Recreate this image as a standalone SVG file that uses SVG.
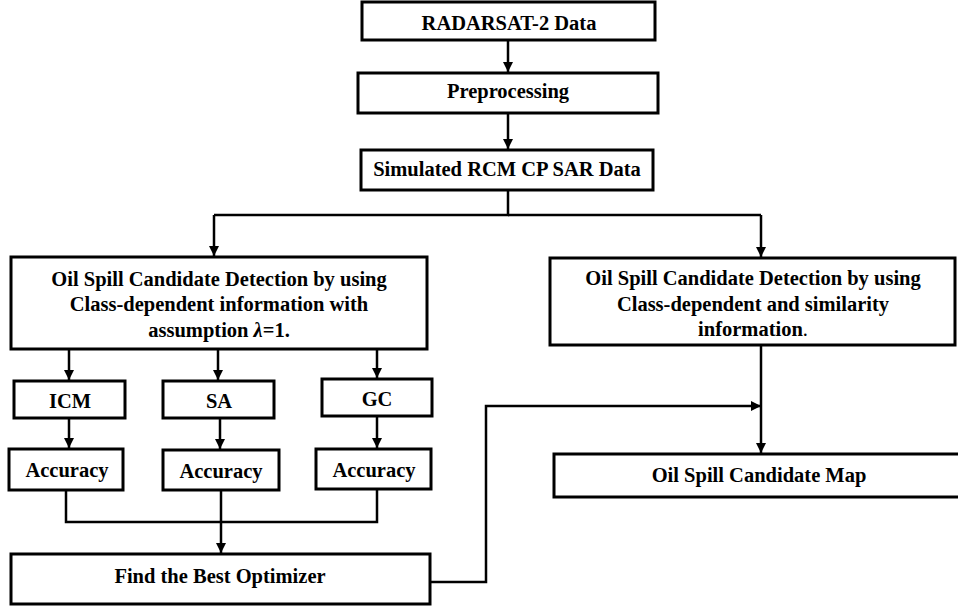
<svg xmlns="http://www.w3.org/2000/svg" width="958" height="607" viewBox="0 0 958 607">
<defs>
<marker id="ah" viewBox="0 0 10 10" refX="10" refY="5" markerWidth="4" markerHeight="4" orient="auto" markerUnits="strokeWidth">
<path d="M0,0 L10,5 L0,10 z" fill="#000"/>
</marker>
<style>
.box{fill:#fff;stroke:#000;stroke-width:3}
.t{font-family:'Liberation Serif','Times New Roman',serif;font-weight:bold;font-size:20.5px;text-anchor:middle;fill:#000}
.c{fill:none;stroke:#000;stroke-width:2.5}
.a{marker-end:url(#ah)}
</style>
</defs>
<rect width="958" height="607" fill="#fff"/>
<g id="connectors">
<path class="c a" d="M508,40 V72"/>
<path class="c a" d="M508,113 V149"/>
<path class="c" d="M508,190 V215 H214"/>
<path class="c" d="M508,215 H761"/>
<path class="c a" d="M214,215 V256"/>
<path class="c a" d="M761,215 V257"/>
<path class="c a" d="M69,349 V380"/>
<path class="c a" d="M218,349 V380"/>
<path class="c a" d="M377,349 V378"/>
<path class="c a" d="M69,418 V448"/>
<path class="c a" d="M220,418 V449"/>
<path class="c a" d="M377,416 V448"/>
<path class="c" d="M66,490 V522 H377 V489"/>
<path class="c a" d="M221,490 V553"/>
<path class="c a" d="M430,582 H486 V406 H761"/>
<path class="c a" d="M761,345 V453"/>
</g>
<g id="n-radarsat"><rect class="box" x="362" y="2" width="293" height="38"/><text class="t" x="509" y="30">RADARSAT-2 Data</text></g>
<g id="n-preprocessing"><rect class="box" x="358" y="73" width="300" height="40"/><text class="t" x="508" y="98">Preprocessing</text></g>
<g id="n-simulated"><rect class="box" x="361" y="150" width="292" height="40"/><text class="t" x="507" y="176">Simulated RCM CP SAR Data</text></g>
<g id="n-left-detect"><rect class="box" x="11" y="257" width="416" height="92"/>
<text class="t" x="219" y="286">Oil Spill Candidate Detection by using</text>
<text class="t" x="219" y="311">Class-dependent information with</text>
<text class="t" x="219" y="337">assumption <tspan font-style="italic">λ</tspan>=1.</text></g>
<g id="n-right-detect"><rect class="box" x="550" y="258" width="405" height="87"/>
<text class="t" x="753" y="285">Oil Spill Candidate Detection by using</text>
<text class="t" x="753" y="311">Class-dependent and similarity</text>
<text class="t" x="753" y="336">information<tspan font-weight="normal">.</tspan></text></g>
<g id="n-icm"><rect class="box" x="14" y="381" width="111" height="37"/><text class="t" x="70" y="408">ICM</text></g>
<g id="n-sa"><rect class="box" x="163" y="381" width="111" height="37"/><text class="t" x="219" y="408">SA</text></g>
<g id="n-gc"><rect class="box" x="322" y="379" width="110" height="37"/><text class="t" x="377" y="406">GC</text></g>
<g id="n-acc1"><rect class="box" x="9" y="449" width="114" height="41"/><text class="t" x="67" y="477">Accuracy</text></g>
<g id="n-acc2"><rect class="box" x="163" y="450" width="116" height="40"/><text class="t" x="221" y="478">Accuracy</text></g>
<g id="n-acc3"><rect class="box" x="316" y="449" width="115" height="40"/><text class="t" x="374" y="477">Accuracy</text></g>
<g id="n-find"><rect class="box" x="11" y="554" width="419" height="50"/><text class="t" x="220" y="583">Find the Best Optimizer</text></g>
<g id="n-map"><rect class="box" x="554" y="454" width="410" height="43"/><text class="t" x="759" y="482">Oil Spill Candidate Map</text></g>
</svg>
